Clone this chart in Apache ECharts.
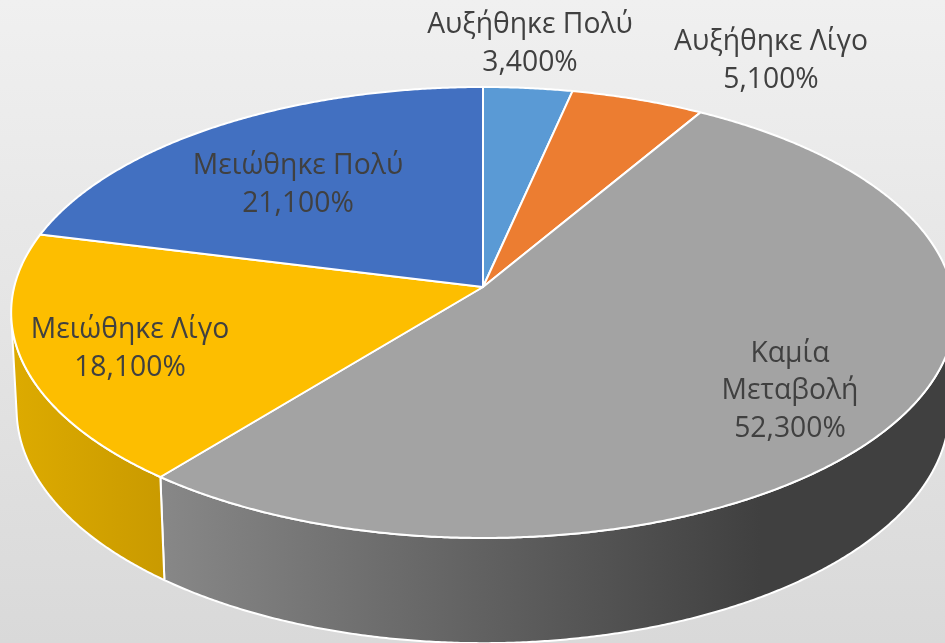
<!DOCTYPE html>
<html><head><meta charset="utf-8">
<style>html,body{margin:0;padding:0;background:#e6e6e6}#c{width:945px;height:643px}</style>
<script src="https://cdn.jsdelivr.net/npm/echarts@6/dist/echarts.min.js"></script>
</head><body><div id="c"></div>
<script>
const categories = ['Αυξήθηκε Πολύ', 'Αυξήθηκε Λίγο', 'Καμία\nΜεταβολή', 'Μειώθηκε Λίγο', 'Μειώθηκε Πολύ'];
const values = [3.4, 5.1, 52.3, 18.1, 21.1];
const topColors = ['#5a9ad5', '#ec7d31', '#a3a3a3', '#fdbe00', '#4270c1'];

// perspective camera of the disc
const cam = { cx: 483, cy: 287, A: 468.8, B: 222.6, p: 0.113, q: 0.0115, D: 97.4 };
// label block centres
const labelCentres = [[530, 44], [771, 61], [790, 391], [130, 349], [298, 185]];

const total = values.reduce((a, b) => a + b, 0);
let run = 0;
const rows = values.map((v, i) => { const r = [i, v, run]; run += v; return r; });

function proj(theta, z) {
  const u = Math.sin(theta), v = Math.cos(theta);
  const w = 1 + cam.p * v + cam.q * z;
  return [cam.cx + cam.A * u / w, cam.cy + (-cam.B * v + cam.D * z) / w];
}
function frontFacing(theta) {
  const d = 0.001, a = proj(theta, 0), b = proj(theta + d, 0), c = proj(theta, 1);
  return (b[0] - a[0]) * (c[1] - a[1]) - (b[1] - a[1]) * (c[0] - a[0]) < 0;
}
function arc(t0, t1, z) {
  const n = Math.max(2, Math.ceil(Math.abs(t1 - t0) / 0.006)), pts = [];
  for (let i = 0; i <= n; i++) pts.push(proj(t0 + (t1 - t0) * i / n, z));
  return pts;
}
function angles(api) {
  const s = api.value(2) / total * 2 * Math.PI, e = (api.value(2) + api.value(1)) / total * 2 * Math.PI;
  return [s, e];
}
function sideFill(i) {
  if (i === 3) return { type: 'linear', x: 18, y: 0, x2: 165, y2: 0, global: true,
    colorStops: [{ offset: 0, color: '#dcaa00' }, { offset: 1, color: '#c99a00' }] };
  if (i === 2) return { type: 'linear', x: 165, y: 0, x2: 760, y2: 0, global: true,
    colorStops: [{ offset: 0, color: '#878787' }, { offset: 1, color: '#404040' }] };
  return topColors[i];
}
function renderSide(params, api) {
  const i = api.value(0); let [s, e] = angles(api);
  let a = null, b = null;
  const step = 0.002;
  for (let t = s; t <= e; t += step) { if (frontFacing(t)) { if (a === null) a = t; b = t; } }
  if (a === null) return { type: 'group', children: [] };
  const pts = arc(a, b, 0).concat(arc(a, b, 1).reverse());
  return { type: 'polygon', shape: { points: pts },
    style: { fill: sideFill(i), stroke: '#fff', lineWidth: 2, lineJoin: 'round' } };
}
function renderTop(params, api) {
  const i = api.value(0); const [s, e] = angles(api);
  const pts = [[cam.cx, cam.cy]].concat(arc(s, e, 0));
  return { type: 'polygon', shape: { points: pts },
    style: { fill: topColors[i], stroke: '#fff', lineWidth: 2, lineJoin: 'round' } };
}
function renderLabel(params, api) {
  const i = api.value(0);
  const txt = categories[i] + '\n' + api.value(1).toFixed(3).replace('.', ',') + '%';
  return { type: 'text', x: labelCentres[i][0], y: labelCentres[i][1],
    style: { text: txt, fill: '#404040', font: '28.3px "Open Sans", "Noto Sans", sans-serif',
      align: 'center', verticalAlign: 'middle', lineHeight: 37.5 } };
}
const chart = echarts.init(document.getElementById('c'), null, { renderer: 'canvas' });
chart.setOption({
  animation: false,
  backgroundColor: new echarts.graphic.LinearGradient(0, 0, 0, 1, [
    { offset: 0, color: '#f0f0f0' }, { offset: 1, color: '#d9d9d9' }]),
  series: [
    { type: 'custom', coordinateSystem: 'none', z: 1, silent: true, renderItem: renderSide, data: rows },
    { type: 'custom', coordinateSystem: 'none', z: 2, silent: true, renderItem: renderTop, data: rows },
    { type: 'custom', coordinateSystem: 'none', z: 3, silent: true, renderItem: renderLabel, data: rows }
  ]
});
</script></body></html>
